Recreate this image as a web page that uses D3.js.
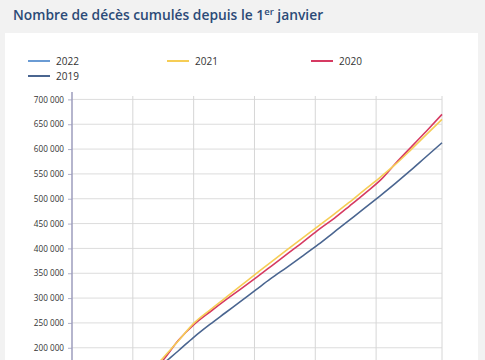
<!DOCTYPE html>
<html>
<head>
<meta charset="utf-8">
<script src="https://cdn.jsdelivr.net/npm/d3@7"></script>
<style>
  html, body { margin: 0; padding: 0; background: #f2f2f2; overflow: hidden; }
  body { width: 485px; height: 360px; font-family: "Open Sans", sans-serif; }
</style>
</head>
<body>
<svg id="chart" width="485" height="360"></svg>
<script>
// Day of year for each point
const days2020 = [0, 15, 31, 45, 60, 75, 91, 105, 121, 136, 152, 167, 182, 197, 213, 228, 244, 259, 274, 289, 305, 320, 335, 350, 365];
const deaths2020 = [0, 29000, 58400, 84000, 111800, 141000, 177800, 215000, 247800, 272000, 296800, 319000, 341800, 365000, 389800, 413000, 438800, 461000, 485800, 511000, 539000, 573000, 605000, 637000, 669800];

const days2021 = [0, 15, 31, 45, 59, 74, 90, 105, 120, 136, 151, 166, 181, 196, 212, 227, 243, 258, 273, 288, 304, 319, 334, 349, 365];
const deaths2021 = [0, 31000, 63000, 91000, 117000, 146000, 180000, 214000, 249000, 276000, 300000, 324000, 348000, 372000, 397000, 420000, 445000, 468000, 492000, 517000, 543000, 569000, 598000, 628000, 659800];

const days2019 = [0, 15, 31, 45, 59, 74, 90, 105, 120, 136, 151, 166, 181, 196, 212, 227, 243, 258, 273, 288, 304, 319, 334, 349, 365];
const deaths2019 = [0, 29000, 61000, 86000, 112000, 139000, 168000, 194000, 221000, 247000, 270000, 293000, 316000, 339000, 362000, 384000, 408000, 432000, 456000, 480000, 506000, 531000, 557000, 584000, 612700];

const days2022 = [0, 15, 31, 45, 52];
const deaths2022 = [0, 31000, 64000, 90000, 103000];

const seriesNames = ["2022", "2021", "2020", "2019"];
const seriesColors = ["#6a9bd4", "#f6cd55", "#d63a62", "#4a6590"];
const gridValues = [0, 50000, 100000, 150000, 200000, 250000, 300000, 350000, 400000, 450000, 500000, 550000, 600000, 650000, 700000];
const yTickLabels = [200000, 250000, 300000, 350000, 400000, 450000, 500000, 550000, 600000, 650000, 700000];
const xTicks = [60, 120, 180, 240, 300, 365];

const title = "Nombre de décès cumulés depuis le 1";

const seriesData = [
  { name: seriesNames[0], color: seriesColors[0], pts: days2022.map((d, i) => [d, deaths2022[i]]) },
  { name: seriesNames[1], color: seriesColors[1], pts: days2021.map((d, i) => [d, deaths2021[i]]) },
  { name: seriesNames[2], color: seriesColors[2], pts: days2020.map((d, i) => [d, deaths2020[i]]) },
  { name: seriesNames[3], color: seriesColors[3], pts: days2019.map((d, i) => [d, deaths2019[i]]) }
];

const svg = d3.select("#chart");

// Title
const t = svg.append("text").attr("x", 13).attr("y", 20)
  .attr("fill", "#2b4a77").attr("font-size", 13.8).attr("font-weight", 600)
  .attr("font-family", "'Open Sans', sans-serif");
t.append("tspan").text(title);
t.append("tspan").attr("dy", -5).attr("font-size", 9.5).text("er");
t.append("tspan").attr("dy", 5).text(" janvier");

// White card
svg.append("rect").attr("x", 5).attr("y", 33).attr("width", 473).attr("height", 400).attr("fill", "#ffffff");

// Legend
const legendPos = [[28, 61], [167, 61], [311, 61], [28, 76]];
seriesData.forEach((s, i) => {
  const [lx, ly] = legendPos[i];
  svg.append("line").attr("x1", lx).attr("x2", lx + 22).attr("y1", ly).attr("y2", ly)
    .attr("stroke", s.color).attr("stroke-width", 2);
  svg.append("text").attr("x", lx + 28).attr("y", ly + 3.5).attr("font-size", 10)
    .attr("fill", "#333").attr("font-family", "'Open Sans', sans-serif").text(s.name);
});

// Scales
const x = d3.scaleLinear().domain([0, 365]).range([72, 442]);
const y = d3.scaleLinear().domain([0, 700000]).range([447.1, 99.4]);

// Grid
const g = svg.append("g");
g.selectAll(".hg").data(gridValues).enter().append("line")
  .attr("x1", 72).attr("x2", 442).attr("y1", d => y(d)).attr("y2", d => y(d))
  .attr("stroke", "#dcdcdc").attr("stroke-width", 1);
g.selectAll(".vg").data(xTicks).enter().append("line")
  .attr("x1", d => x(d)).attr("x2", d => x(d)).attr("y1", 96).attr("y2", y(0))
  .attr("stroke", "#d6d6d6").attr("stroke-width", 1);

// Y axis
const yAxis = d3.axisLeft(y).tickValues(yTickLabels).tickSize(4).tickPadding(4)
  .tickFormat(d => d3.format(",")(d).replace(/,/g, " "));
const ya = svg.append("g").attr("transform", "translate(72,0)").call(yAxis);
ya.select(".domain").remove();
ya.selectAll(".tick line").attr("stroke", "#b0b0c8");
ya.selectAll(".tick text").attr("font-size", 8.2).attr("fill", "#333")
  .attr("font-family", "'Open Sans', sans-serif");
svg.append("line").attr("x1", 72).attr("x2", 72).attr("y1", 92).attr("y2", y(0))
  .attr("stroke", "#9c9cbc").attr("stroke-width", 1.5);

// Lines
const line = d3.line().curve(d3.curveMonotoneX).x(d => x(d[0])).y(d => y(d[1]));
seriesData.slice().reverse().forEach(s => {
  svg.append("path").datum(s.pts).attr("d", line)
    .attr("fill", "none").attr("stroke", s.color).attr("stroke-width", 1.6);
});
</script>
</body>
</html>
